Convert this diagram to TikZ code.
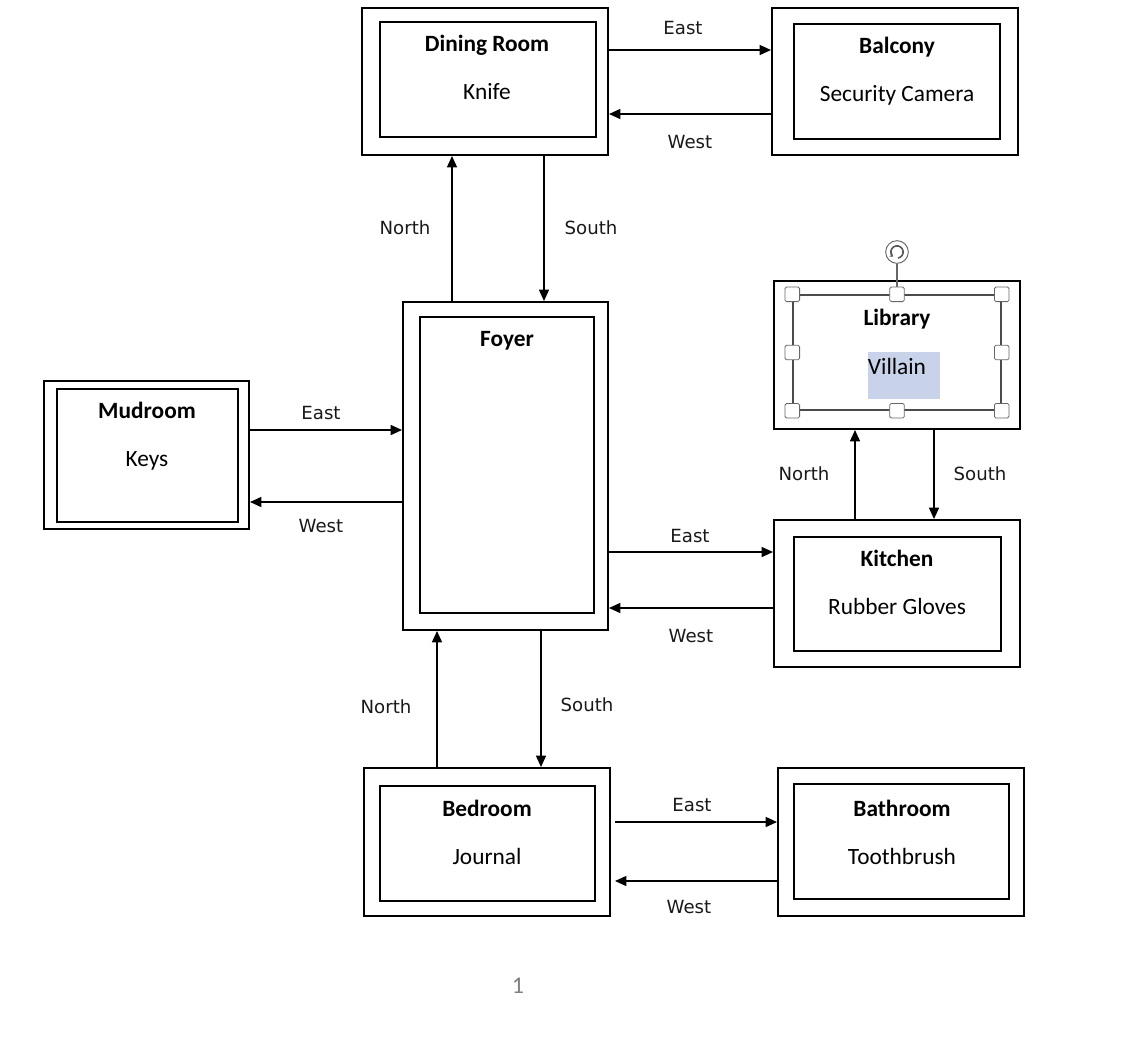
\documentclass[tikz,border=0pt]{standalone}
\usepackage{fontspec}
\setmainfont{Carlito}
\newfontfamily\labelfont{DejaVu Sans}
\usetikzlibrary{arrows.meta,fit}

\begin{document}
\begin{tikzpicture}[x=0.75pt,y=-0.75pt,
  outerbox/.style={draw, line width=1.5pt, inner sep=0pt},
  innerbox/.style={draw, line width=0.8pt, inner sep=0pt},
  roomtitle/.style={font=\bfseries\fontsize{17.5}{20}\selectfont},
  roomitem/.style={font=\fontsize{17.5}{20}\selectfont},
  dirlabel/.style={font=\labelfont\fontsize{13.6}{16}\selectfont, text=black!90},
  arr/.style={-{Triangle[length=8.5pt,width=7.5pt]}, line width=1.1pt},
  selframe/.style={draw=black!70, line width=1.1pt},
  handle/.style={draw=black!60, fill=white, line width=0.6pt, rounded corners=1.2pt,
                 minimum size=11pt, inner sep=0pt}]

\useasboundingbox (0,0) rectangle (1140,1040);

% ---------- rooms ----------
% Dining Room
\node[outerbox, fit={(362,8) (608,155)}] (dr) {};
\node[innerbox, fit={(380,22) (596,137)}] (dri) {};
\node[roomtitle] (drt) at (487,45) {Dining Room};
\node[roomitem] (drx) at (487,92) {Knife};

% Balcony
\node[outerbox, fit={(772,8) (1018,155)}] (bal) {};
\node[innerbox, fit={(794,24) (1000,139)}] (bali) {};
\node[roomtitle] (balt) at (897,47) {Balcony};
\node[roomitem] (balx) at (897,95) {Security Camera};

% Foyer
\node[outerbox, fit={(403,302) (608,630)}] (foy) {};
\node[innerbox, fit={(420,317) (594,613)}] (foyi) {};
\node[roomtitle] (foyt) at (507,341) {Foyer};

% Mudroom
\node[outerbox, fit={(44,381) (249,529)}] (mud) {};
\node[innerbox, fit={(57,389) (238,522)}] (mudi) {};
\node[roomtitle] (mudt) at (147,410) {Mudroom};
\node[roomitem] (mudx) at (147,461) {Keys};

% Library (text box shown selected)
\node[outerbox, fit={(774,281) (1020,429)}] (lib) {};
\fill[fill={rgb,255:red,200;green,211;blue,234}] (868,352) rectangle (940,399);
\node[selframe, inner sep=0pt, fit={(793,295) (1001,410)}] (libi) {};
\node[roomtitle] (libt) at (897,319) {Library};
\node[roomitem] (libx) at (897,366) {Villain};

% Kitchen
\node[outerbox, fit={(774,520) (1020,667)}] (kit) {};
\node[innerbox, fit={(794,537) (1001,651)}] (kiti) {};
\node[roomtitle] (kitt) at (897,558) {Kitchen};
\node[roomitem] (kitx) at (897,606) {Rubber Gloves};

% Bedroom
\node[outerbox, fit={(364,768) (610,916)}] (bed) {};
\node[innerbox, fit={(380,786) (595,901)}] (bedi) {};
\node[roomtitle] (bedt) at (487,808) {Bedroom};
\node[roomitem] (bedx) at (487,856) {Journal};

% Bathroom
\node[outerbox, fit={(778,768) (1024,916)}] (bath) {};
\node[innerbox, fit={(794,784) (1009,899)}] (bathi) {};
\node[roomtitle] (batht) at (902,808) {Bathroom};
\node[roomitem] (bathx) at (902,856) {Toothbrush};

% ---------- selection handles on the Library text box ----------
\node[draw=black!60, fill=white, circle, line width=0.7pt, minimum size=17pt, inner sep=0pt] (rot) at (897,252) {};
\draw[black!60, line width=1.1pt] (rot.south) -- (libi.north);
\draw[black!65, line width=1.2pt, -{Stealth[length=2.4pt,width=3.4pt]}]
  ([shift={(-80:4.6pt)}]rot.center) arc[start angle=-80, end angle=230, radius=4.6pt];
\foreach \a in {north west,north,north east,west,east,south west,south,south east}
  \node[handle] at (libi.\a) {};

% ---------- passages ----------
\draw[arr] (dr.east |- 0,50) -- (bal.west |- 0,50);
\draw[arr] (bal.west |- 0,114) -- (dr.east |- 0,114);
\node[dirlabel] (l1) at (683,28) {East};
\node[dirlabel] (l2) at (690,142) {West};

\draw[arr] (foy.north -| 452,0) -- (dr.south -| 452,0);
\draw[arr] (dr.south -| 544,0) -- (foy.north -| 544,0);
\node[dirlabel] (l3) at (405,228) {North};
\node[dirlabel] (l4) at (591,228) {South};

\draw[arr] (mud.east |- 0,430) -- (foy.west |- 0,430);
\draw[arr] (foy.west |- 0,502) -- (mud.east |- 0,502);
\node[dirlabel] (l5) at (321,413) {East};
\node[dirlabel] (l6) at (321,526) {West};

\draw[arr] (foy.east |- 0,552) -- (kit.west |- 0,552);
\draw[arr] (kit.west |- 0,608) -- (foy.east |- 0,608);
\node[dirlabel] (l7) at (690,536) {East};
\node[dirlabel] (l8) at (691,636) {West};

\draw[arr] (kit.north -| 855,0) -- (lib.south -| 855,0);
\draw[arr] (lib.south -| 934,0) -- (kit.north -| 934,0);
\node[dirlabel] (l9) at (804,474) {North};
\node[dirlabel] (l10) at (980,474) {South};

\draw[arr] (bed.north -| 437,0) -- (foy.south -| 437,0);
\draw[arr] (foy.south -| 541,0) -- (bed.north -| 541,0);
\node[dirlabel] (l11) at (386,707) {North};
\node[dirlabel] (l12) at (587,705) {South};

\draw[arr] (615,822) -- (bath.west |- 0,822);
\draw[arr] (bath.west |- 0,881) -- (615,881);
\node[dirlabel] (l13) at (692,805) {East};
\node[dirlabel] (l14) at (689,907) {West};

% page number
\node[font=\fontsize{18}{20}\selectfont, text=black!50] (pg) at (518,986) {1};

\end{tikzpicture}
\end{document}
